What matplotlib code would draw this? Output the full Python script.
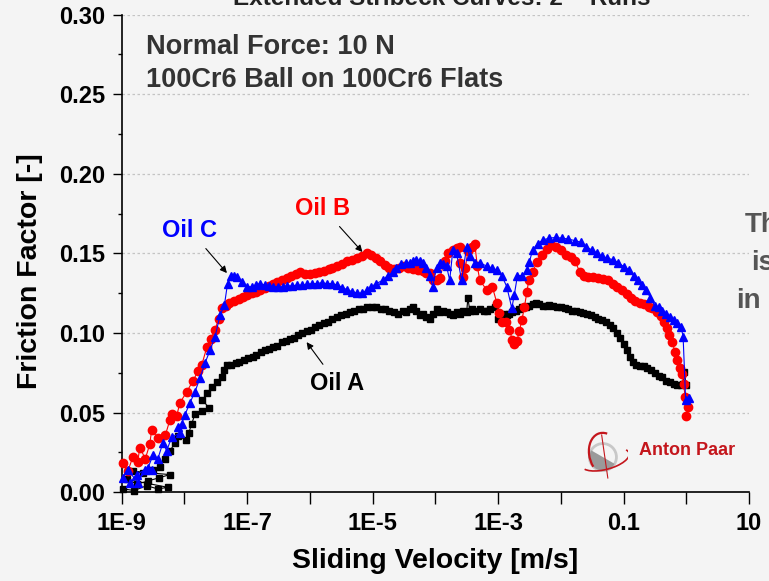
import numpy as np
import matplotlib
matplotlib.use("Agg")
import matplotlib.pyplot as plt
from matplotlib.patches import Circle, Wedge, Arc
from matplotlib.ticker import FixedLocator, MultipleLocator, NullLocator

plt.rcParams["font.family"] = ["Liberation Sans", "DejaVu Sans"]
plt.rcParams["font.weight"] = "bold"

# log10 of sliding velocity [m/s] and friction factor
oil_a_logv = [-8.97, -8.80, -8.60, -8.42, -8.26, -8.92, -8.75, -8.58, -8.40, -8.23,
              -8.82, -8.65, -8.50, -8.39, -8.31, -8.23, -8.14, -8.10, -7.98, -7.93,
              -7.88, -7.83, -7.71, -7.61, -7.71, -7.64, -7.55, -7.48, -7.40, -7.37,
              -7.32, -7.25, -7.18, -7.12, -7.05, -6.98, -6.91, -6.85, -6.78, -6.71,
              -6.65, -6.59, -6.52, -6.45, -6.38, -6.32, -6.25, -6.18, -6.12, -6.05,
              -5.98, -5.91, -5.85, -5.78, -5.71, -5.64, -5.57, -5.50, -5.43, -5.36,
              -5.29, -5.22, -5.15, -5.08, -5.01, -4.94, -4.87, -4.80, -4.73, -4.66,
              -4.59, -4.52, -4.46, -4.41, -4.36, -4.30, -4.25, -4.20, -4.14, -4.09,
              -4.04, -3.98, -3.93, -3.88, -3.82, -3.77, -3.72, -3.66, -3.61, -3.56,
              -3.50, -3.48, -3.45, -3.41, -3.37, -3.29, -3.23, -3.18, -3.12, -3.05,
              -3.00, -2.96, -2.91, -2.86, -2.82, -2.77, -2.71, -2.66, -2.61, -2.55,
              -2.50, -2.45, -2.39, -2.34, -2.28, -2.22, -2.18, -2.12, -2.06, -2.00,
              -1.94, -1.88, -1.82, -1.76, -1.70, -1.64, -1.58, -1.52, -1.46, -1.40,
              -1.34, -1.28, -1.22, -1.16, -1.10, -1.05, -1.00, -0.95, -0.90, -0.85,
              -0.80, -0.74, -0.68, -0.62, -0.56, -0.50, -0.44, -0.38, -0.32, -0.26,
              -0.20, -0.14, -0.08, -0.05, -0.03, 0.00]
oil_a_ff = [0.002, 0.001, 0.004, 0.002, 0.003, 0.008, 0.005, 0.007, 0.009, 0.011,
            0.013, 0.012, 0.014, 0.016, 0.021, 0.026, 0.031, 0.035, 0.033, 0.037,
            0.043, 0.049, 0.051, 0.053, 0.058, 0.062, 0.066, 0.069, 0.072, 0.077,
            0.080, 0.080, 0.081, 0.082, 0.083, 0.084, 0.085, 0.086, 0.088, 0.089,
            0.090, 0.091, 0.092, 0.094, 0.095, 0.096, 0.097, 0.099, 0.100, 0.101,
            0.102, 0.104, 0.105, 0.106, 0.107, 0.109, 0.110, 0.111, 0.112, 0.113,
            0.114, 0.115, 0.115, 0.116, 0.116, 0.116, 0.115, 0.115, 0.114, 0.113,
            0.112, 0.114, 0.113, 0.115, 0.116, 0.114, 0.111, 0.112, 0.110, 0.109,
            0.112, 0.115, 0.113, 0.114, 0.113, 0.112, 0.111, 0.113, 0.112, 0.114,
            0.113, 0.122, 0.114, 0.115, 0.114, 0.115, 0.114, 0.114, 0.115, 0.116,
            0.109, 0.111, 0.112, 0.111, 0.112, 0.113, 0.114, 0.115, 0.116, 0.116,
            0.117, 0.118, 0.1185, 0.118, 0.117, 0.117, 0.1175, 0.117, 0.116, 0.116,
            0.1155, 0.115, 0.114, 0.114, 0.113, 0.1125, 0.112, 0.111, 0.110, 0.109,
            0.108, 0.107, 0.105, 0.103, 0.100, 0.097, 0.093, 0.089, 0.085, 0.082,
            0.080, 0.079, 0.079, 0.078, 0.077, 0.075, 0.073, 0.072, 0.070, 0.069,
            0.068, 0.067, 0.067, 0.068, 0.0755, 0.067]

oil_b_logv = [-8.98, -8.90, -8.82, -8.74, -8.71, -8.62, -8.55, -8.52, -8.42, -8.30,
              -8.23, -8.20, -8.12, -8.07, -7.96, -7.86, -7.78, -7.72, -7.64, -7.58,
              -7.51, -7.45, -7.40, -7.34, -7.28, -7.20, -7.12, -7.07, -7.00, -6.92,
              -6.85, -6.80, -6.72, -6.65, -6.59, -6.52, -6.45, -6.37, -6.30, -6.22,
              -6.16, -6.08, -6.00, -5.92, -5.85, -5.78, -5.70, -5.64, -5.56, -5.48,
              -5.40, -5.33, -5.25, -5.17, -5.09, -5.02, -4.95, -4.88, -4.80, -4.73,
              -4.66, -4.58, -4.50, -4.43, -4.36, -4.28, -4.20, -4.14, -4.09, -4.04,
              -3.98, -3.93, -3.85, -3.80, -3.72, -3.66, -3.61, -3.60, -3.56, -3.52,
              -3.48, -3.42, -3.37, -3.33, -3.29, -3.18, -3.09, -3.02, -2.98, -2.94,
              -2.88, -2.82, -2.77, -2.74, -2.70, -2.66, -2.62, -2.58, -2.54, -2.51,
              -2.45, -2.38, -2.30, -2.22, -2.15, -2.07, -1.99, -1.91, -1.84, -1.77,
              -1.70, -1.63, -1.56, -1.48, -1.40, -1.32, -1.24, -1.17, -1.10, -1.03,
              -0.95, -0.88, -0.81, -0.74, -0.67, -0.60, -0.54, -0.47, -0.41, -0.36,
              -0.31, -0.27, -0.22, -0.18, -0.14, -0.10, -0.07, -0.04, -0.02, 0.03,
              0.00]
oil_b_ff = [0.018, 0.013, 0.022, 0.019, 0.028, 0.021, 0.030, 0.039, 0.034, 0.036,
            0.045, 0.049, 0.048, 0.056, 0.063, 0.070, 0.076, 0.080, 0.091, 0.096,
            0.102, 0.109, 0.1155, 0.117, 0.1185, 0.120, 0.121, 0.1225, 0.124, 0.125,
            0.126, 0.127, 0.128, 0.1295, 0.131, 0.132, 0.1335, 0.1345, 0.136, 0.137,
            0.138, 0.137, 0.137, 0.1375, 0.138, 0.139, 0.140, 0.1405, 0.142, 0.1435,
            0.145, 0.146, 0.147, 0.1485, 0.150, 0.149, 0.147, 0.145, 0.1425, 0.141,
            0.140, 0.141, 0.142, 0.141, 0.140, 0.1395, 0.139, 0.1375, 0.1375, 0.133,
            0.133, 0.1345, 0.145, 0.150, 0.152, 0.1535, 0.154, 0.144, 0.135, 0.141,
            0.1515, 0.154, 0.156, 0.142, 0.133, 0.127, 0.129, 0.119, 0.1125, 0.107,
            0.107, 0.102, 0.0955, 0.093, 0.095, 0.101, 0.108, 0.116, 0.1255, 0.133,
            0.138, 0.1445, 0.149, 0.153, 0.155, 0.154, 0.152, 0.149, 0.1475, 0.145,
            0.1385, 0.136, 0.135, 0.135, 0.1345, 0.134, 0.133, 0.131, 0.129, 0.127,
            0.1245, 0.122, 0.120, 0.119, 0.118, 0.1165, 0.1155, 0.113, 0.1105, 0.107,
            0.103, 0.099, 0.094, 0.088, 0.083, 0.078, 0.074, 0.068, 0.060, 0.0535,
            0.048]

oil_c_logv = [-8.98, -8.90, -8.74, -8.63, -8.52, -8.87, -8.76, -8.58, -8.50, -8.42,
              -8.34, -8.28, -8.20, -8.07, -8.10, -8.04, -7.99, -7.91, -7.83, -7.75,
              -7.67, -7.59, -7.51, -7.43, -7.36, -7.31, -7.26, -7.20, -7.16, -7.08,
              -7.00, -6.92, -6.85, -6.80, -6.72, -6.65, -6.59, -6.50, -6.42, -6.37,
              -6.28, -6.20, -6.12, -6.04, -5.96, -5.89, -5.81, -5.73, -5.64, -5.56,
              -5.48, -5.40, -5.33, -5.24, -5.16, -5.09, -5.02, -4.94, -4.84, -4.76,
              -4.68, -4.62, -4.55, -4.46, -4.41, -4.35, -4.30, -4.25, -4.20, -4.14,
              -4.09, -4.04, -3.98, -3.93, -3.88, -3.82, -3.77, -3.72, -3.66, -3.58,
              -3.50, -3.45, -3.37, -3.29, -3.18, -3.09, -3.02, -2.94, -2.86, -2.78,
              -2.74, -2.69, -2.61, -2.54, -2.50, -2.45, -2.37, -2.28, -2.18, -2.08,
              -1.98, -1.88, -1.78, -1.68, -1.59, -1.50, -1.42, -1.34, -1.26, -1.17,
              -1.08, -0.99, -0.91, -0.84, -0.77, -0.70, -0.64, -0.57, -0.50, -0.44,
              -0.38, -0.32, -0.26, -0.20, -0.14, -0.08, -0.05, -0.01, 0.04]
oil_c_ff = [0.009, 0.014, 0.006, 0.014, 0.014, 0.006, 0.011, 0.015, 0.023, 0.021,
            0.031, 0.026, 0.0345, 0.037, 0.041, 0.043, 0.0485, 0.056, 0.063, 0.0715,
            0.081, 0.089, 0.0975, 0.111, 0.1175, 0.131, 0.136, 0.136, 0.135, 0.132,
            0.129, 0.129, 0.130, 0.131, 0.130, 0.1295, 0.129, 0.129, 0.129, 0.1295,
            0.1295, 0.130, 0.130, 0.1305, 0.131, 0.131, 0.1315, 0.131, 0.131, 0.130,
            0.1285, 0.127, 0.126, 0.125, 0.125, 0.127, 0.129, 0.131, 0.133, 0.136,
            0.138, 0.141, 0.143, 0.144, 0.144, 0.145, 0.146, 0.145, 0.144, 0.141,
            0.136, 0.129, 0.141, 0.144, 0.143, 0.142, 0.133, 0.152, 0.150, 0.133,
            0.154, 0.148, 0.144, 0.144, 0.142, 0.1405, 0.1395, 0.136, 0.129, 0.1155,
            0.124, 0.136, 0.136, 0.1395, 0.1445, 0.152, 0.156, 0.1585, 0.1595, 0.160,
            0.1595, 0.159, 0.158, 0.157, 0.154, 0.152, 0.150, 0.148, 0.147, 0.146,
            0.144, 0.1415, 0.1395, 0.136, 0.133, 0.130, 0.127, 0.122, 0.117, 0.116,
            0.114, 0.112, 0.110, 0.108, 0.106, 0.1035, 0.0975, 0.058, 0.059]

x_ticks = [1e-9, 1e-8, 1e-7, 1e-6, 1e-5, 1e-4, 1e-3, 1e-2, 0.1, 1, 10]
x_tick_labels = ["1E-9", "", "1E-7", "", "1E-5", "", "1E-3", "", "0.1", "", "10"]

bg = "#f4f4f4"
fig = plt.figure(figsize=(7.69, 5.81), dpi=100, facecolor=bg)
ax = fig.add_axes([0.158, 0.153, 0.816, 0.822], facecolor=bg)

ax.plot(10.0 ** np.array(oil_a_logv), oil_a_ff, "-s", color="black", lw=0.8,
        ms=4.8, mec="black", clip_on=False, zorder=3)
ax.plot(10.0 ** np.array(oil_b_logv), oil_b_ff, "-o", color="#ff0000", lw=0.8,
        ms=6.0, mec="#ff0000", clip_on=False, zorder=4)
ax.plot(10.0 ** np.array(oil_c_logv), oil_c_ff, "-^", color="#0000ff", lw=0.8,
        ms=6.0, mec="#0000ff", clip_on=False, zorder=5)

ax.set_xscale("log")
ax.set_xlim(1e-9, 10)
ax.set_ylim(0, 0.30)
ax.xaxis.set_major_locator(FixedLocator(x_ticks))
ax.xaxis.set_minor_locator(NullLocator())
ax.set_xticklabels(x_tick_labels)
ax.set_yticks(np.arange(0, 0.301, 0.05))
ax.set_yticklabels([f"{v:.2f}" for v in np.arange(0, 0.301, 0.05)])
ax.yaxis.set_minor_locator(MultipleLocator(0.025))

ax.tick_params(axis="x", direction="out", length=8.5, width=1.0, pad=6,
               labelsize=17)
ax.tick_params(axis="y", which="major", direction="out", length=6.5, width=1.0,
               pad=5, labelsize=17)
ax.tick_params(axis="y", which="minor", direction="out", length=3, width=1.0)

for s in ["top", "right"]:
    ax.spines[s].set_visible(False)
for s in ["left", "bottom"]:
    ax.spines[s].set_linewidth(1.2)

ax.yaxis.grid(True, linestyle=(0, (2, 2)), color="#c4c4c4", lw=0.9)
ax.set_axisbelow(True)

ax.set_xlabel("Sliding Velocity [m/s]", fontsize=20.5, fontweight="bold")
ax.xaxis.set_label_coords(0.5, -0.118)
ax.set_ylabel("Friction Factor [-]", fontsize=20.5, fontweight="bold")
ax.yaxis.set_label_coords(-0.146, 0.463)
ax.yaxis.label.set_va("center")

fig.text(0.575, 1 - 5 / 581, "Extended Stribeck Curves: 2 \u2013 Runs",
         fontsize=17.5, fontweight="bold", color="#222222", ha="center",
         va="baseline")

ax.text(0.039, 0.932, "Normal Force: 10 N", transform=ax.transAxes,
        fontsize=19.5, fontweight="bold", color="#333333", va="center")
ax.text(0.039, 0.863, "100Cr6 Ball on 100Cr6 Flats", transform=ax.transAxes,
        fontsize=19.5, fontweight="bold", color="#333333", va="center")

arrow = dict(arrowstyle="-|>", color="black", lw=0.8, mutation_scale=10,
             shrinkA=4, shrinkB=0)
ax.annotate("Oil C", xy=(10 ** -7.32, 0.1376), xytext=(10 ** -7.91, 0.1646),
            ha="center", va="center", fontsize=17, fontweight="bold",
            color="#0000ff", arrowprops=arrow)
ax.annotate("Oil B", xy=(10 ** -5.16, 0.1508), xytext=(10 ** -5.79, 0.1784),
            ha="center", va="center", fontsize=17, fontweight="bold",
            color="#ff0000", arrowprops=arrow)
ax.annotate("Oil A", xy=(10 ** -6.05, 0.0942), xytext=(10 ** -5.57, 0.0685),
            ha="center", va="center", fontsize=17, fontweight="bold",
            color="black", arrowprops=arrow)

# cut-off text box on the right
for txt, x, y in [("Th", 745, 232), ("is", 751, 270), ("in", 736, 308)]:
    fig.text(x / 769, 1 - y / 581, txt, fontsize=20, fontweight="bold",
             color="#555555", ha="left", va="baseline")

# Anton Paar logo
fig.text(639 / 769, 1 - 455 / 581, "Anton Paar", fontsize=13, fontweight="bold",
         color="#c4161c", ha="left", va="baseline")
lax = fig.add_axes([0.752, 0.175, 0.064, 0.085])
lax.set_xlim(-1, 1)
lax.set_ylim(-1, 1)
lax.set_aspect("equal")
lax.axis("off")
lax.add_patch(Circle((0.0, -0.1), 0.55, facecolor="none", edgecolor="#c8c8c8", lw=2))
lax.add_patch(Wedge((0.0, -0.1), 0.55, 150, 330, facecolor="#9a9a9a"))
lax.add_patch(Arc((0.1, 0.0), 1.3, 1.8, angle=15, theta1=70, theta2=210,
                  color="#c4161c", lw=1.6))
lax.add_patch(Arc((0.1, -0.2), 2.0, 0.8, angle=15, theta1=190, theta2=370,
                  color="#c4161c", lw=1.2))
lax.plot([-0.05, 0.2], [0.8, -0.95], color="#c4161c", lw=0.8)

fig.savefig("out.png", dpi=100, facecolor=bg)
